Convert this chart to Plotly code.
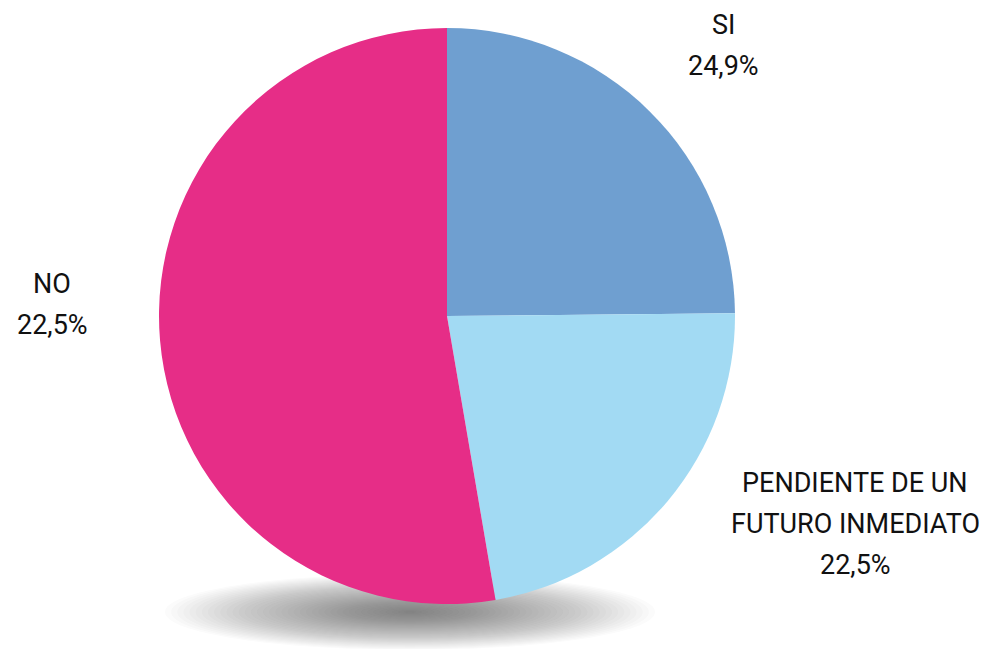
import plotly.graph_objects as go

# slice data (NO slice drawn at its visual share, label keeps the printed text)
labels = ['SI', 'PENDIENTE DE UN<br>FUTURO INMEDIATO', 'NO']
values = [24.9, 22.5, 52.8]
shown_pct = ['24,9%', '22,5%', '22,5%']
colors = ['#6F9FD0', '#A2DAF3', '#E62D87']

W, H = 987, 649
cx, cy, r = 447, 316, 288

fig = go.Figure()

fig.add_trace(go.Pie(
    labels=labels, values=values,
    sort=False, direction='clockwise', rotation=0,
    marker=dict(colors=colors, line=dict(width=0)),
    textinfo='none', hoverinfo='label+percent',
    showlegend=False,
    domain=dict(x=[(cx - r) / W, (cx + r) / W],
                y=[1 - (cy + r) / H, 1 - (cy - r) / H]),
))

# soft shadow under the pie, many faint stacked ellipses for a gradient
shapes = []
sx, sy = 410, 612
steps = 40
for k in range(steps):
    f = 1 - k / steps
    shapes.append(dict(
        type='circle', xref='paper', yref='paper', layer='below',
        x0=(sx - 245 * f) / W, x1=(sx + 245 * f) / W,
        y0=1 - (sy + 38 * f) / H, y1=1 - (sy - 38 * f) / H,
        fillcolor='rgba(40,40,40,0.018)', line=dict(width=0),
    ))

# outside labels, one annotation per line to get the wider line spacing
label_pos = [(723, 25), (855, 483), (52, 284)]   # centre of first line
line_gap = 41
annotations = []
for lab, pct, (x, y) in zip(labels, shown_pct, label_pos):
    lines = lab.split('<br>') + [pct]
    for i, ln in enumerate(lines):
        annotations.append(dict(
            x=x / W, y=1 - (y + i * line_gap) / H, xref='paper', yref='paper',
            text=ln, showarrow=False,
            xanchor='center', yanchor='middle', align='center',
            font=dict(family='Roboto, sans-serif', size=27, color='#111111'),
        ))

fig.update_layout(
    width=W, height=H,
    margin=dict(l=0, r=0, t=0, b=0),
    paper_bgcolor='white', plot_bgcolor='white',
    shapes=shapes, annotations=annotations,
)

fig.write_html("out.html", config={'displayModeBar': False},
               post_script="document.body.style.margin='0';")
